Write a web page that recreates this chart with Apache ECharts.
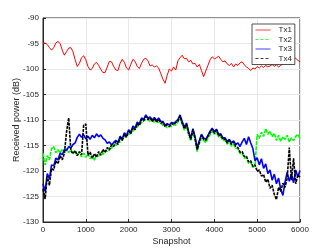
<!DOCTYPE html>
<html><head><meta charset="utf-8">
<script src="https://cdn.jsdelivr.net/npm/echarts@6/dist/echarts.min.js"></script>
<style>html,body{margin:0;padding:0;background:#fff}#c{width:332px;height:249px}</style>
</head><body><div id="c"></div>
<script>
var STEP = 50;
var xTicks = [0,1000,2000,3000,4000,5000,6000];
var yTicks = [-130,-125,-120,-115,-110,-105,-100,-95,-90];
var seriesNames = ['Tx1','Tx2','Tx3','Tx4'];
var tx1 = [-95.0,-94.9,-95.2,-95.8,-96.3,-95.8,-94.9,-94.6,-95.0,-96.3,-97.3,-96.6,-95.9,-95.8,-96.6,-98.2,-99.5,-98.9,-97.8,-97.4,
-98.2,-99.5,-100.2,-99.9,-99.0,-98.7,-99.3,-100.1,-100.7,-100.7,-99.6,-98.5,-98.6,-99.5,-100.2,-100.3,-98.9,-98.1,-98.7,-99.8,
-100.2,-99.1,-98.1,-98.5,-99.5,-99.9,-98.9,-98.1,-97.9,-98.4,-99.4,-99.2,-99.6,-99.4,-99.8,-100.9,-102.0,-102.8,-101.2,-100.0,
-100.4,-99.6,-100.2,-98.4,-97.8,-97.3,-98.0,-97.9,-98.6,-98.3,-99.0,-98.9,-99.6,-99.1,-100.3,-101.5,-100.4,-99.3,-98.2,-97.6,
-98.0,-97.8,-97.5,-98.1,-98.6,-98.4,-99.0,-99.3,-98.9,-99.6,-99.0,-99.3,-98.8,-98.6,-99.2,-99.6,-99.9,-100.3,-99.8,-100.0,
-99.5,-99.8,-99.4,-99.7,-99.3,-99.6,-99.4,-99.1,-99.5,-99.2,-99.6,-99.3,-99.0,-98.9,-98.5,-98.6,-98.2,-98.0,-97.9,-98.3,-98.6];
var tx2 = [-116.5,-118.8,-117.0,-117.8,-115.6,-115.2,-116.4,-115.8,-116.5,-115.7,-116.3,-115.6,-116.4,-115.8,-116.6,-116.0,-116.9,-116.3,-117.2,-116.5,
-117.3,-116.6,-117.6,-117.0,-117.9,-116.8,-117.2,-116.4,-116.8,-116.0,-116.2,-115.4,-115.6,-114.8,-115.0,-114.4,-114.3,-113.7,-113.5,-113.1,
-112.9,-112.4,-112.2,-111.6,-111.4,-110.8,-110.6,-110.0,-110.0,-109.9,-110.3,-110.2,-110.4,-110.3,-110.5,-110.5,-111.1,-111.2,-111.5,-111.3,
-111.2,-110.9,-111.0,-110.4,-109.7,-110.8,-112.0,-111.1,-112.9,-114.1,-112.4,-113.9,-116.2,-114.6,-113.5,-114.0,-114.4,-113.6,-112.9,-112.2,
-112.8,-112.4,-113.3,-113.3,-114.0,-114.0,-114.7,-114.4,-115.1,-114.8,-115.6,-115.6,-116.6,-116.5,-117.5,-117.4,-118.5,-118.3,-119.3,-118.9,
-112.8,-113.6,-112.4,-113.2,-111.7,-112.8,-112.2,-113.3,-112.6,-114.0,-113.0,-114.2,-113.3,-113.8,-113.0,-114.3,-113.5,-114.0,-113.2,-112.8,-113.6];
var tx3 = [-122.5,-124.0,-120.5,-121.5,-118.8,-119.0,-117.5,-117.8,-116.5,-116.8,-115.8,-116.0,-115.2,-115.5,-114.8,-114.5,-113.4,-112.8,-113.4,-112.9,
-113.7,-113.2,-113.8,-113.0,-113.5,-112.7,-113.3,-112.9,-113.6,-113.9,-114.6,-114.3,-114.9,-114.4,-114.0,-114.4,-113.2,-113.7,-112.5,-113.0,
-111.9,-112.4,-111.2,-111.6,-110.4,-110.8,-109.6,-109.9,-109.0,-109.6,-109.4,-110.0,-109.5,-110.1,-109.6,-110.3,-110.3,-111.0,-110.7,-111.0,
-110.5,-110.6,-110.3,-109.9,-109.0,-110.3,-111.4,-110.6,-112.3,-113.5,-111.7,-113.3,-115.5,-114.0,-112.8,-113.5,-113.8,-113.0,-112.2,-111.6,
-112.3,-111.8,-112.8,-112.7,-113.5,-113.5,-114.2,-113.8,-114.5,-114.1,-114.8,-114.5,-115.2,-114.3,-113.6,-114.8,-113.3,-114.5,-115.6,-118.0,
-117.4,-118.8,-117.6,-119.5,-118.6,-120.5,-119.8,-121.8,-120.6,-122.5,-121.4,-123.6,-124.8,-122.2,-120.3,-122.0,-120.6,-122.3,-119.8,-121.2,-119.9];
var tx4 = [-123.5,-125.5,-121.0,-122.8,-119.5,-119.8,-118.0,-118.6,-117.0,-117.8,-116.5,-112.3,-109.6,-116.0,-116.6,-116.0,-117.0,-116.2,-116.8,-111.0,
-110.8,-116.9,-116.3,-117.5,-116.6,-117.3,-116.2,-116.9,-115.8,-116.4,-115.4,-115.9,-114.9,-115.2,-114.2,-114.8,-113.5,-114.0,-112.8,-113.4,
-112.2,-112.7,-111.5,-111.9,-110.7,-111.1,-109.9,-110.2,-109.3,-109.9,-109.6,-110.3,-109.7,-110.4,-109.8,-110.6,-110.5,-111.3,-110.9,-111.3,
-110.7,-110.9,-110.5,-110.2,-109.2,-110.6,-111.7,-110.8,-112.6,-113.8,-111.9,-113.6,-115.8,-114.3,-113.0,-113.8,-114.0,-113.2,-112.5,-111.8,
-112.6,-112.0,-113.1,-112.9,-113.8,-113.7,-114.5,-114.0,-114.8,-114.3,-115.2,-115.4,-116.3,-116.2,-117.2,-117.1,-118.2,-118.0,-119.1,-118.8,
-120.1,-119.8,-121.0,-120.7,-122.2,-121.6,-123.4,-122.8,-124.6,-125.6,-123.2,-124.0,-122.4,-123.2,-121.5,-115.4,-121.8,-117.5,-122.5,-120.8,-121.2];

function pairs(arr){ return arr.map(function(v,i){ return [i*STEP, v]; }); }
var colors = ['#ff0000','#00ff00','#0000ff','#000000'];
var widths = [1, 1.6, 1.6, 1.6];
var plotDash = ['solid', [4,1], 'solid', [3,1]];
var legendDash = ['solid', [3,2], 'solid', [3,2]];
var dataSets = [tx1,tx2,tx3,tx4];
var font = 'Liberation Sans, Arial, sans-serif';
var chart = echarts.init(document.getElementById('c'), null, {renderer:'canvas'});
var series = dataSets.map(function(d,i){
  return {name: seriesNames[i], type:'line', data: pairs(d), showSymbol:false, symbol:'none',
    animation:false, lineStyle:{color:colors[i], width:widths[i], type: plotDash[i]},
    itemStyle:{color:colors[i]}, z: 2+i};
});
var legendData = seriesNames.map(function(n,i){
  return {name:n, itemStyle:{opacity:0}, lineStyle:{width:1, color:colors[i], opacity:0.75, type:legendDash[i]}};
});
var axisCommon = {
  axisLine:{show:true, lineStyle:{color:'#262626', width:1}},
  axisTick:{show:true, inside:true, length:3, lineStyle:{color:'#262626'}},
  splitLine:{show:true, lineStyle:{color:'#e8e8e8', width:1}}
};
chart.setOption({
  animation:false,
  backgroundColor:'#fff',
  grid:{left:43, right:32, top:18, bottom:27, show:true, borderColor:'#262626', borderWidth:1, outerBoundsMode:'none', containLabel:false},
  legend:{data:legendData, orient:'vertical', left:252, top:24, width:43,
    backgroundColor:'#fff', borderColor:'#262626', borderWidth:0.8, padding:[2,3,2,3],
    itemGap:1.5, itemWidth:15, itemHeight:8, textStyle:{fontSize:8, fontFamily:font, color:'#262626', padding:[0,0,0,3]}},
  xAxis:Object.assign({type:'value', min:0, max:6000, interval:1000, name:'Snapshot', nameLocation:'middle', nameGap:15.5, nameMoveOverlap:false,
    nameTextStyle:{fontSize:9, fontFamily:font, color:'#262626'}}, axisCommon,
    {axisLabel:{color:'#262626', fontSize:8, fontFamily:font, margin:4, formatter:function(v){return String(v);}}}),
  yAxis:Object.assign({type:'value', min:-130, max:-90, interval:5, name:'Received power (dB)', nameLocation:'middle', nameGap:21.5, nameMoveOverlap:false,
    nameTextStyle:{fontSize:9, fontFamily:font, color:'#262626'}}, axisCommon,
    {axisLabel:{color:'#262626', fontSize:8, fontFamily:font, margin:4, formatter:function(v){return String(v);}}}),
  series: series
});
</script></body></html>
